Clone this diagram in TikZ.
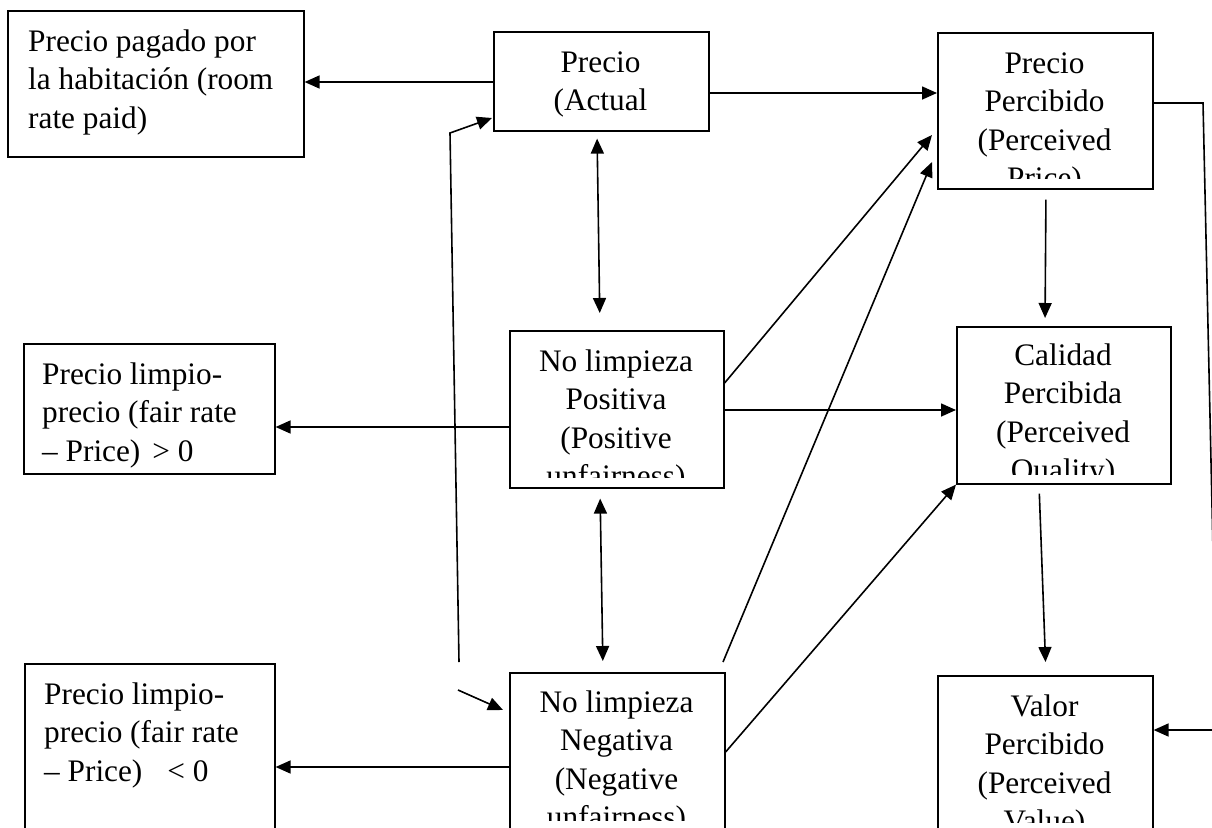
\documentclass[tikz,border=0pt]{standalone}
\usepackage{fontspec}
\setmainfont{Liberation Serif}
\usetikzlibrary{arrows.meta,calc}

% multi-line labels whose reference point is the first baseline
\newcommand\clines[1]{\vtop{\baselineskip=38.5pt\halign{\hfil##\hfil\cr#1\crcr}}}
\newcommand\llines[1]{\vtop{\baselineskip=38.5pt\halign{##\hfil\cr#1\crcr}}}

\tikzset{
  box/.style={draw, rectangle, line width=1.6pt, inner sep=0pt, anchor=north west},
  txt/.style={inner sep=0pt, font=\fontsize{31.3pt}{38.5pt}\selectfont},
  arr/.style={line width=1.6pt, -{Triangle[length=15pt,width=13pt]}},
  darr/.style={line width=1.6pt, {Triangle[length=15pt,width=13pt]}-{Triangle[length=15pt,width=13pt]}},
}

\begin{document}
\begin{tikzpicture}[x=1pt, y=-1pt]
\clip (0,0) rectangle (1212,827);
\fill[white] (0,0) rectangle (1212,827);

% boxes
\node[box, minimum width=296pt, minimum height=146pt] (A) at (7,10) {};
\node[box, minimum width=215pt, minimum height=99pt]  (B) at (493,31) {};
\node[box, minimum width=215pt, minimum height=156pt] (C) at (937,32) {};
\node[box, minimum width=214pt, minimum height=157pt] (D) at (509,330) {};
\node[box, minimum width=214pt, minimum height=157pt] (E) at (956,326) {};
\node[box, minimum width=251pt, minimum height=130pt] (F) at (23,343) {};
\node[box, minimum width=215pt, minimum height=165pt] (G) at (509,672) {};
\node[box, minimum width=250pt, minimum height=175pt] (H) at (24,663) {};
\node[box, minimum width=215pt, minimum height=165pt] (I) at (937,675) {};

% box texts
\node[txt, anchor=base west] (Atxt) at (28,51)
  {\llines{Precio pagado por\cr la habitación (room\cr rate paid)}};
\node[txt, anchor=base] (Btxt) at (600.5,72) {\clines{Precio\cr (Actual}};
\begin{scope}
  \clip (C.north west) rectangle (C.east |- 0,178);
  \node[txt, anchor=base] (Ctxt) at (1044.5,73)
    {\clines{Precio\cr Percibido\cr (Perceived\cr Price)}};
\end{scope}
\begin{scope}
  \clip (D.north west) rectangle (D.east |- 0,477);
  \node[txt, anchor=base] (Dtxt) at (616,371)
    {\clines{No limpieza\cr Positiva\cr (Positive\cr unfairness)}};
\end{scope}
\begin{scope}
  \clip (E.north west) rectangle (E.east |- 0,474);
  \node[txt, anchor=base] (Etxt) at (1063,365)
    {\clines{Calidad\cr Percibida\cr (Perceived\cr Quality)}};
\end{scope}
\node[txt, anchor=base west] (Ftxt) at (42,384)
  {\llines{Precio limpio-\cr precio (fair rate\cr – Price)\hspace{12pt}> 0}};
\begin{scope}
  \clip (G.north west) rectangle (G.east |- 0,820);
  \node[txt, anchor=base] (Gtxt) at (616.5,712)
    {\clines{No limpieza\cr Negativa\cr (Negative\cr unfairness)}};
\end{scope}
\node[txt, anchor=base west] (Htxt) at (44,704)
  {\llines{Precio limpio-\cr precio (fair rate\cr – Price)\hspace{25pt}< 0}};
\begin{scope}
  \clip (I.north west) rectangle (I.east |- 0,822);
  \node[txt, anchor=base] (Itxt) at (1044.5,716)
    {\clines{Valor\cr Percibido\cr (Perceived\cr Value)}};
\end{scope}

% connectors
\draw[arr] (B.west |- 0,82) -- (A.east |- 0,82);
\draw[arr] (B.east |- 0,93) -- (C.west |- 0,93);
\draw[darr, shorten <=7pt, shorten >=17pt] (B.south -| 597,0) -- (D.north -| 600,0);
\draw[darr, shorten <=10pt, shorten >=11pt] (D.south -| 600,0) -- (G.north -| 603,0);
\draw[arr, shorten <=10pt, shorten >=8pt] (C.south -| 1046,0) -- (E.north -| 1045,0);
\draw[arr, shorten <=9pt, shorten >=13pt] (E.south -| 1039,0) -- (I.north -| 1046,0);
\draw[arr] (D.west |- 0,427) -- (F.east |- 0,427);
\draw[arr] (D.east |- 0,410) -- (E.west |- 0,410);
\draw[arr] (D.east |- 0,383) -- ($(C.west |- 0,135)+(-5,0)$);
\draw[arr] ($(G.north -| 723,0)+(0,-10)$) -- ($(C.west |- 0,162)+(-5,0)$);
\draw[arr] (G.east |- 0,752) -- (E.south west);
\draw[arr] (G.west |- 0,767) -- (H.east |- 0,767);

% feedback from the negative branch back to the actual price
\coordinate (fbLow) at (459,662);
\coordinate (fbBend) at (450,133);
\coordinate (fbIn) at (458,690);
\draw[arr] (fbLow) -- (fbBend) -- ($(B.west |- 0,118)+(-1,0)$);
\draw[arr] (fbIn) -- ($(G.west |- 0,710)+(-6,0)$);

% perceived price feeding perceived value along the right margin
\coordinate (loopTop) at (1203,103);
\coordinate (loopLow) at (1217,730);
\draw[arr] (C.east |- 0,103) -- (loopTop) -- (loopLow) -- (I.east |- 0,730);
\end{tikzpicture}
\end{document}
